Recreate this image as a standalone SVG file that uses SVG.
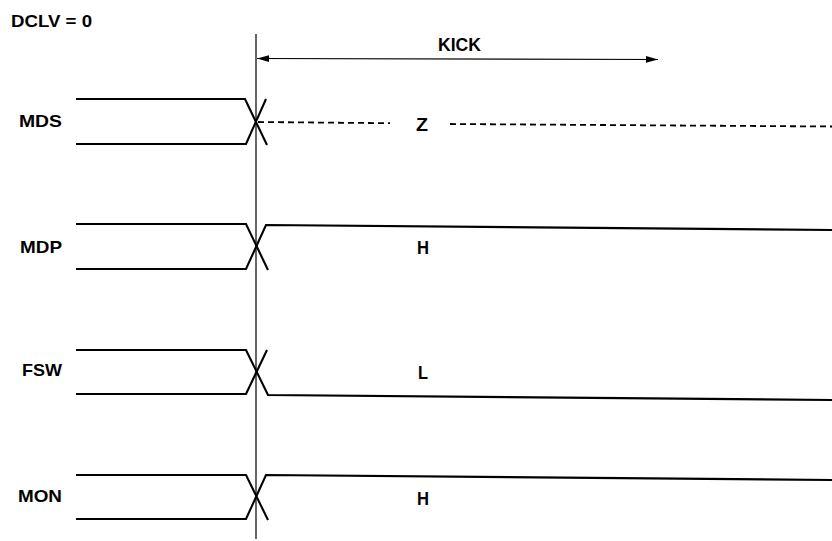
<svg xmlns="http://www.w3.org/2000/svg" width="832" height="541" viewBox="0 0 832 541">
<defs>
<style>
.bg{fill:#ffffff}
.sig{fill:none;stroke:#000;stroke-width:2.1;stroke-linejoin:miter}
.dash{fill:none;stroke:#000;stroke-width:1.8;stroke-dasharray:6 4}
.conn{fill:none;stroke:#000;stroke-width:1.2}
.lbl{font-family:"Liberation Sans",Arial,sans-serif;font-weight:bold;font-size:17px;fill:#000}
.val{font-family:"Liberation Sans",Arial,sans-serif;font-weight:bold;font-size:18px;fill:#000}
</style>
<marker id="ah" viewBox="0 0 12 8" refX="12" refY="4" markerWidth="12" markerHeight="8" markerUnits="userSpaceOnUse" orient="auto-start-reverse">
<path d="M0,0.6 L12,4 L0,7.4 Z" fill="#000"/>
</marker>
</defs>
<rect class="bg" x="0" y="0" width="832" height="541"/>

<g id="title">
<text class="lbl" x="11" y="27" textLength="81" lengthAdjust="spacingAndGlyphs">DCLV = 0</text>
</g>

<g id="connectors">
<line class="conn" x1="256" y1="34" x2="256" y2="539"/>
<line class="conn" x1="257" y1="58.5" x2="658" y2="59.5" marker-start="url(#ah)" marker-end="url(#ah)"/>
<text class="val" x="438" y="51" textLength="43" lengthAdjust="spacingAndGlyphs">KICK</text>
</g>

<g id="sig-mds">
<text class="lbl" x="62" y="127" text-anchor="end" textLength="43" lengthAdjust="spacingAndGlyphs">MDS</text>
<path class="sig" d="M76,99 H245 L267,145"/>
<path class="sig" d="M76,144 H246 L266,99"/>
<line class="dash" x1="258" y1="122" x2="390" y2="123.2"/>
<line class="dash" x1="450" y1="124" x2="832" y2="126.5"/>
<text class="val" x="416" y="131" textLength="12" lengthAdjust="spacingAndGlyphs">Z</text>
</g>

<g id="sig-mdp">
<text class="lbl" x="62" y="253" text-anchor="end" textLength="42" lengthAdjust="spacingAndGlyphs">MDP</text>
<path class="sig" d="M76,224 H246 L268,270"/>
<path class="sig" d="M76,269 H246 L266,225 L832,230"/>
<text class="val" x="417" y="254" textLength="12" lengthAdjust="spacingAndGlyphs">H</text>
</g>

<g id="sig-fsw">
<text class="lbl" x="62" y="376" text-anchor="end" textLength="40" lengthAdjust="spacingAndGlyphs">FSW</text>
<path class="sig" d="M76,350 H246 L268,395 L832,400"/>
<path class="sig" d="M76,394 H246 L267,350"/>
<text class="val" x="418" y="379" textLength="10" lengthAdjust="spacingAndGlyphs">L</text>
</g>

<g id="sig-mon">
<text class="lbl" x="62" y="502" text-anchor="end" textLength="44" lengthAdjust="spacingAndGlyphs">MON</text>
<path class="sig" d="M76,475 H246 L268,520"/>
<path class="sig" d="M76,519 H246 L266,475 L832,480"/>
<text class="val" x="417" y="505" textLength="12" lengthAdjust="spacingAndGlyphs">H</text>
</g>
</svg>
